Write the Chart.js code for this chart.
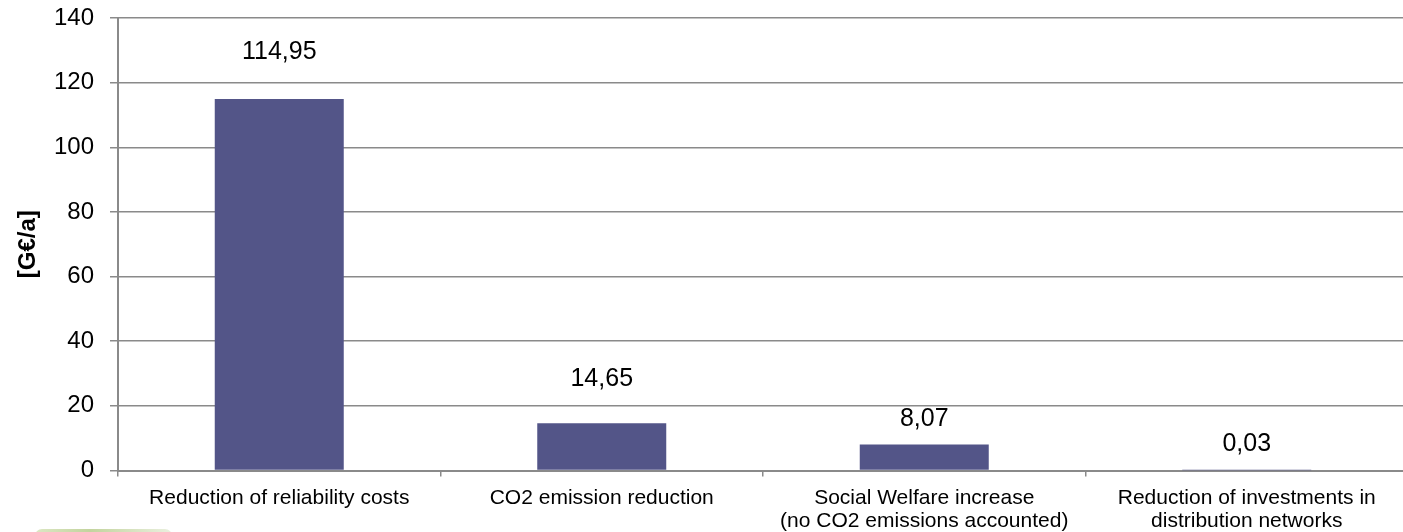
<!DOCTYPE html>
<html>
<head>
<meta charset="utf-8">
<script src="https://cdn.jsdelivr.net/npm/chart.js@4.4.1/dist/chart.umd.min.js"></script>
<style>
  html, body { margin: 0; padding: 0; background: #ffffff; overflow: hidden; }
  #wrap { position: relative; width: 1408px; height: 532px; }
</style>
</head>
<body>
<div id="wrap"><canvas id="chart"></canvas></div>
<script>
// Annual benefit categories (two-line labels where the text wraps)
const categories = [
  ['Reduction of reliability costs'],
  ['CO2 emission reduction'],
  ['Social Welfare increase', '(no CO2 emissions accounted)'],
  ['Reduction of investments in', 'distribution networks']
];
const benefitValues = [114.95, 14.65, 8.07, 0.03];
const yTicks = [0, 20, 40, 60, 80, 100, 120, 140];
const yTitle = '[G€/a]';

// Value labels, written with a decimal comma
const valueLabels = benefitValues.map(v => v.toFixed(2).replace('.', ','));
// Gap (px) between each bar top and the baseline of its value label
const labelGaps = [40, 37, 18, 19];

const FONT = "'Liberation Sans', Arial, sans-serif";
const GRID = '#8a8a8a';

const valueLabelPlugin = {
  id: 'valueLabels',
  afterDatasetsDraw(chart) {
    const ctx = chart.ctx;
    const meta = chart.getDatasetMeta(0);
    ctx.save();
    ctx.font = '25px ' + FONT;
    ctx.fillStyle = '#000000';
    ctx.textAlign = 'center';
    ctx.textBaseline = 'alphabetic';
    meta.data.forEach((bar, i) => {
      ctx.fillText(valueLabels[i], bar.x, bar.y - labelGaps[i]);
    });
    ctx.restore();
  }
};

const logoPlugin = {
  id: 'cornerLogo',
  afterDraw(chart) {
    const ctx = chart.ctx;
    ctx.save();
    const g = ctx.createLinearGradient(35, 0, 172, 0);
    g.addColorStop(0, '#dce7c4');
    g.addColorStop(0.4, '#c3d49e');
    g.addColorStop(1, '#eaf0df');
    ctx.fillStyle = g;
    ctx.beginPath();
    ctx.roundRect(35, 529, 137, 14, 7);
    ctx.fill();
    ctx.restore();
  }
};

new Chart(document.getElementById('chart'), {
  type: 'bar',
  data: {
    labels: categories,
    datasets: [{
      data: benefitValues,
      backgroundColor: '#535588',
      borderWidth: 0,
      categoryPercentage: 1.0,
      barPercentage: 0.4
    }]
  },
  options: {
    responsive: true,
    maintainAspectRatio: false,
    animation: false,
    layout: { padding: { top: 18, left: 0, right: 0, bottom: 0 } },
    plugins: {
      legend: { display: false },
      tooltip: { enabled: false }
    },
    scales: {
      x: {
        offset: true,
        grid: {
          offset: true,
          drawOnChartArea: false,
          drawTicks: true,
          tickLength: 6,
          color: GRID,
          lineWidth: 1.5
        },
        border: { color: GRID, width: 2 },
        ticks: {
          color: '#000000',
          font: { family: FONT, size: 21, lineHeight: 1.1 },
          padding: 10,
          maxRotation: 0,
          autoSkip: false
        },
        afterFit(scale) {
          scale.height = 61.5;
          scale.paddingLeft = 0;
          scale.paddingRight = 0;
        }
      },
      y: {
        min: 0,
        max: 140,
        afterBuildTicks(scale) { scale.ticks = yTicks.map(v => ({ value: v })); },
        grid: {
          color: GRID,
          lineWidth: 1.5,
          drawTicks: true,
          tickLength: 8
        },
        border: { color: GRID, width: 2 },
        ticks: {
          color: '#000000',
          font: { family: FONT, size: 24 },
          padding: 16
        },
        title: {
          display: true,
          text: yTitle,
          color: '#000000',
          font: { family: FONT, size: 24, weight: 'bold' },
          padding: { top: 14, bottom: 0 }
        },
        afterFit(scale) {
          scale.width = 118;
          scale.paddingTop = 0;
          scale.paddingBottom = 0;
        }
      }
    }
  },
  plugins: [valueLabelPlugin, logoPlugin]
});
</script>
</body>
</html>
